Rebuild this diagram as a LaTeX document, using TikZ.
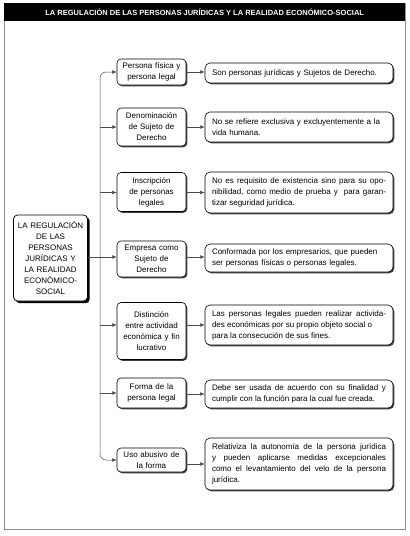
\documentclass[tikz,border=0pt]{standalone}
\usepackage{fontspec}
\setmainfont{Liberation Sans}
\usetikzlibrary{arrows.meta,shadows}
\begin{document}
\begin{tikzpicture}[x=1pt,y=-1pt,
  every node/.style={font=\fontsize{8}{11}\selectfont},
  midbox/.style={draw=black, line width=0.6pt, rounded corners=4pt, fill=white,
    minimum width=69pt, text width=63pt, align=center, inner xsep=3pt, inner ysep=1pt,
    drop shadow={shadow xshift=1.3pt, shadow yshift=-1.3pt, opacity=1, fill=black!75}},
  rbox/.style={draw=black, line width=0.6pt, rounded corners=5pt, fill=white,
    minimum width=188pt, text width=174pt, align=left, inner xsep=7pt, inner ysep=1pt,
    drop shadow={shadow xshift=1.3pt, shadow yshift=-1.3pt, opacity=1, fill=black!75}},
  rootbox/.style={draw=black, line width=0.8pt, rounded corners=4pt, fill=white,
    minimum width=74pt, minimum height=86pt, text width=68pt, align=center, inner sep=2pt,
    drop shadow={shadow xshift=2.2pt, shadow yshift=-2.2pt, opacity=1, fill=black}},
  arr/.style={draw=black!70, line width=0.5pt, -{Latex[length=4.5pt,width=3.6pt]}},
  lnk/.style={draw=black!70, line width=0.5pt}
]
\useasboundingbox (0,0) rectangle (410,536);
% frame and title
\draw[black!45, line width=0.8pt] (4,3) rectangle (405,529);
\node[fill=black, minimum width=401pt, minimum height=18pt, inner sep=0pt, anchor=north west,
  text=white, font=\fontsize{7.5}{9}\selectfont\bfseries] (title) at (4,3)
  {LA REGULACIÓN DE LAS PERSONAS JURÍDICAS Y LA REALIDAD ECONÓMICO-SOCIAL};

% root
\node[rootbox] (root) at (50.5,258) {LA REGULACIÓN\\DE LAS\\PERSONAS\\JURÍDICAS Y\\LA REALIDAD\\ECONÓMICO-\\SOCIAL};

% middle boxes
\node[midbox, minimum height=26pt] (m1) at (151.5,72) {Persona física y\\persona legal};
\node[midbox, minimum height=38pt] (m2) at (151.5,127) {Denominación\\de Sujeto de\\Derecho};
\node[midbox, minimum height=39pt] (m3) at (151.5,192) {Inscripción\\de personas\\legales};
\node[midbox, minimum height=36pt] (m4) at (151.5,259) {Empresa como\\Sujeto de\\Derecho};
\node[midbox, minimum height=57pt] (m5) at (151.5,331) {Distinción\\entre actividad\\económica y fin\\lucrativo};
\node[midbox, minimum height=30pt] (m6) at (151.5,393) {Forma de la\\persona legal};
\node[midbox, minimum height=24pt] (m7) at (151.5,460) {Uso abusivo de\\la forma};

% right boxes
\node[rbox, minimum height=20pt] (r1) at (299,73) {Son personas jurídicas y Sujetos de Derecho.};
\node[rbox, minimum height=30pt] (r2) at (299,127) {No se refiere exclusiva y excluyentemente a la\\vida humana.};
\node[rbox, minimum height=41pt, align=justify] (r3) at (299,192.5) {No es requisito de existencia sino para su opo-\linebreak nibilidad, como medio de prueba y\ \ para garan-\linebreak tizar seguridad jurídica.};
\node[rbox, minimum height=28pt] (r4) at (299,258) {Conformada por los empresarios, que pueden\\ser personas físicas o personas legales.};
\node[rbox, minimum height=40pt, align=justify] (r5) at (299,325) {Las personas legales pueden realizar activida-\linebreak des económicas por su propio objeto social o\\para la consecución de sus fines.};
\node[rbox, minimum height=28pt, align=justify] (r6) at (299,394) {Debe ser usada de acuerdo con su finalidad y\linebreak cumplir con la función para la cual fue creada.};
\node[rbox, minimum height=52pt, align=justify] (r7) at (299,464) {Relativiza la autonomía de la persona jurídica\linebreak y pueden aplicarse medidas excepcionales\linebreak como el levantamiento del velo de la persona\linebreak jurídica.};

% trunk
\coordinate (j) at (100,257);
\draw[lnk] (root.east |- j) -- (j);
\draw[arr, rounded corners=6pt] (j) |- (m1.west);
\draw[arr, rounded corners=6pt] (j) |- (m7.west);
\draw[arr] (j |- m2.west) -- (m2.west);
\draw[arr] (j |- r3.west) -- (m3.west |- r3.west);
\draw[arr] (j) -- (m4.west |- j);
\draw[arr] (j |- r5.west) -- (m5.west |- r5.west);
\draw[arr] (j |- m6.west) -- (m6.west);

% middle to right
\draw[arr] (m1.east) -- (r1.west |- m1.east);
\draw[arr] (m2.east) -- (r2.west |- m2.east);
\draw[arr] (m3.east |- r3.west) -- (r3.west);
\draw[arr] (m4.east |- j) -- (r4.west |- j);
\draw[arr] (m5.east |- r5.west) -- (r5.west);
\draw[arr] (m6.east |- r6.west) -- (r6.west);
\draw[arr] (m7.east |- r7.west) -- (r7.west);
\end{tikzpicture}
\end{document}
